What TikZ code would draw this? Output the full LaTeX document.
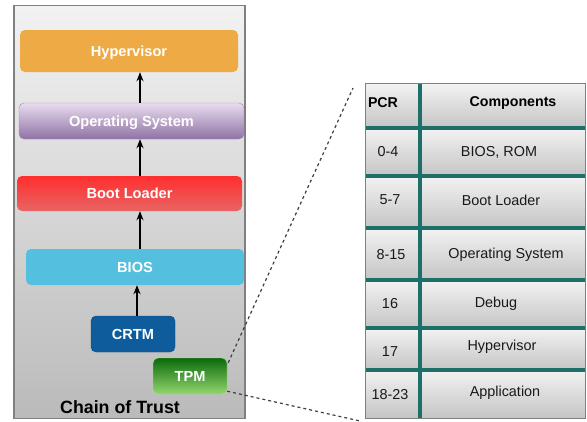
\documentclass[tikz,border=0pt]{standalone}
\usepackage{fontspec}
\setmainfont{Liberation Sans}
\usetikzlibrary{arrows.meta,calc}

\definecolor{hypc}{HTML}{EEAA44}
\definecolor{ostop}{HTML}{E8DCEF}
\definecolor{osbot}{HTML}{9072A4}
\definecolor{osline}{HTML}{A687B8}
\definecolor{bltop}{HTML}{FF2E2E}
\definecolor{blbot}{HTML}{E86464}
\definecolor{biosc}{HTML}{55BFDF}
\definecolor{crtmc}{HTML}{0F5C9C}
\definecolor{tpmtop}{HTML}{0A6A0A}
\definecolor{tpmbot}{HTML}{92D66E}
\definecolor{gridc}{HTML}{1E6F68}

\tikzset{
  layer/.style={rectangle, rounded corners=5pt, inner sep=0pt, text depth=0pt,
    font=\bfseries\fontsize{14.6}{16}\selectfont, text=white},
  arr/.style={-{Stealth[length=9pt,width=7pt]}, line width=1.3pt, black},
  zoomline/.style={dashed, dash pattern=on 3pt off 3pt, line width=1.2pt, black!75},
  cell/.style={rectangle, inner sep=0pt, top color=black!5, bottom color=black!23},
  gridline/.style={line width=4pt, gridc},
  celltext/.style={font=\fontsize{14.4}{16}\selectfont, text=black!90},
  headtext/.style={font=\bfseries\fontsize{14.2}{16}\selectfont, text=black}
}

\begin{document}
\begin{tikzpicture}[x=1pt,y=-1pt]
\useasboundingbox (0,0) rectangle (587,421);

% chain of trust panel
\node[rectangle, draw=black!50, line width=1.2pt, top color=black!5, bottom color=black!27,
  minimum width=231, minimum height=413, inner sep=0pt] (panel) at (129.5,212) {};

% layers of the chain
\node[layer, fill=hypc, minimum width=218, minimum height=42] (hyp) at (129,51) {Hypervisor};
\node[layer, draw=osline, top color=ostop, bottom color=osbot,
  minimum width=225, minimum height=36] (os) at (131.5,121) {Operating System};
\node[layer, top color=bltop, bottom color=blbot,
  minimum width=225, minimum height=35] (boot) at (129.5,193.5) {Boot Loader};
\node[layer, fill=biosc, minimum width=218, minimum height=36] (bios) at (135,267) {BIOS};
\node[layer, fill=crtmc, draw=crtmc!80!black, minimum width=84, minimum height=36] (crtm) at (133,334) {CRTM};
\node[layer, draw=tpmbot!80!white, top color=tpmtop, bottom color=tpmbot,
  minimum width=74, minimum height=36] (tpm) at (190,376) {TPM};
\node[font=\bfseries\fontsize{17.8}{20}\selectfont] (title) at (120,407) {Chain of Trust};

% measurement arrows
\coordinate (ax) at (140,0);
\coordinate (bx) at (137,0);
\draw[arr] (os.north -| ax) -- (hyp.south -| ax);
\draw[arr] (boot.north -| ax) -- (os.south -| ax);
\draw[arr] (bios.north -| ax) -- (boot.south -| ax);
\draw[arr] (crtm.north -| bx) -- (bios.south -| bx);

% PCR table
\foreach \i/\ya/\yb in {0/84/128, 1/128/176, 2/176/228, 3/228/280, 4/280/328, 5/328/370, 6/370/418}{
  \pgfmathsetmacro\yc{(\ya+\yb)/2}
  \pgfmathsetmacro\hh{\yb-\ya}
  \node[cell, minimum width=54, minimum height=\hh] (a\i) at (393,\yc) {};
  \node[cell, minimum width=165, minimum height=\hh] (b\i) at (502.5,\yc) {};
}
\draw[black!50, line width=1pt] (a0.north west) rectangle (b6.south east);
\foreach \i in {0,...,5}{
  \draw[gridline] (a\i.south west) -- (b\i.south east);
}
\draw[gridline] (a0.north east) -- (a6.south east);

% table texts
\node[headtext] (ph) at (383,103) {PCR};
\node[headtext] (ch) at (513,103) {Components};
\node[celltext] (p1) at (388,152) {0-4};
\node[celltext] (k1) at (499,152) {BIOS, ROM};
\node[celltext] (p2) at (390,200) {5-7};
\node[celltext] (k2) at (501,200) {Boot Loader};
\node[celltext] (p3) at (391,255) {8-15};
\node[celltext] (k3) at (506,255) {Operating System};
\node[celltext] (p4) at (390,304) {16};
\node[celltext] (k4) at (496,304) {Debug};
\node[celltext] (p5) at (390,352) {17};
\node[celltext] (k5) at (502,347) {Hypervisor};
\node[celltext] (p6) at (390,395) {18-23};
\node[celltext] (k6) at (505,393) {Application};

% zoom lines from the TPM to the table
\coordinate (z1) at (353,88);
\coordinate (z2) at (360,421);
\draw[zoomline] ($(tpm.north east)+(1,5)$) -- (z1);
\draw[zoomline] ($(tpm.south east)+(0,-3)$) -- (z2);
\end{tikzpicture}
\end{document}
